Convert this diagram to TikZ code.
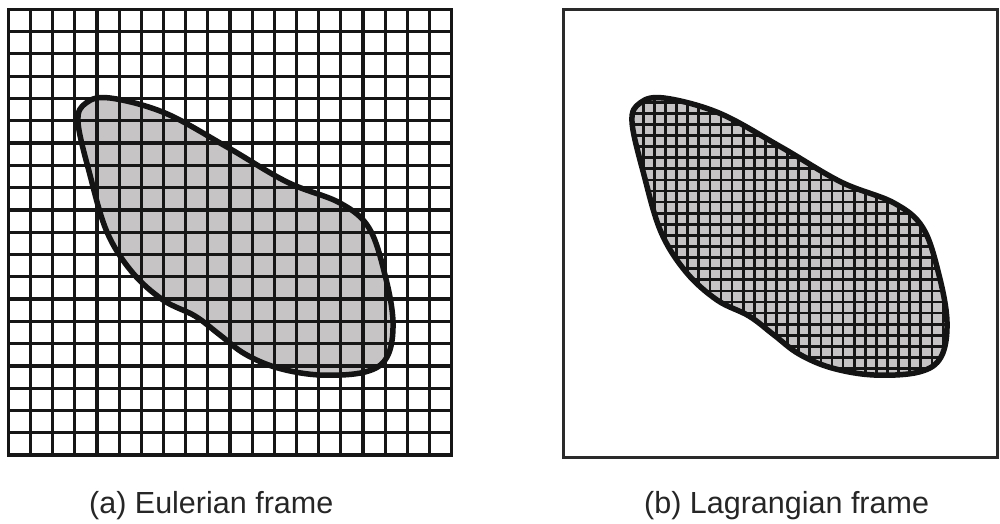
\documentclass[tikz,border=0pt]{standalone}
\usepackage{fontspec}
\setmainfont{Liberation Sans}
\definecolor{gridcol}{HTML}{161616}
\definecolor{blobfill}{HTML}{C6C4C4}
\definecolor{framecol}{HTML}{2A2A2A}
\tikzset{
  coarsegrid/.style={draw=gridcol, line width=3.2pt},
  finegrid/.style={draw=gridcol, line width=2.7pt},
  blobline/.style={draw=black!92, line width=5.5pt, line join=round},
  framebox/.style={draw=framecol, line width=3pt},
  caption/.style={anchor=base west, inner sep=0pt, font=\fontsize{30.5}{36}\selectfont, text=black!85}
}
\def\blobpath{plot[smooth cycle, tension=0.6] coordinates {(78,122) (86,103) (110,98) (165,113) (227,147) (287,182) (340,203) (369,228) (385,275) (393,322) (387,357) (365,372) (320,375) (278,368) (245,354) (220,335) (195,316) (163,300) (132,272) (107,232) (90,175)}}
\begin{document}
\begin{tikzpicture}[x=1pt, y=-1pt]
\useasboundingbox (0,0) rectangle (1000,523);
\fill[white] (0,0) rectangle (1000,523);
% ---- left panel: Eulerian ----
\fill[blobfill] \blobpath;
\foreach \i in {0,...,20}{
  \draw[coarsegrid] ({8.3+22.17*\i},9.3) -- ({8.3+22.17*\i},455);
  \draw[coarsegrid] (8.3,{9.3+22.29*\i}) -- (451.7,{9.3+22.29*\i});
}
\draw[coarsegrid, line width=3.4pt] (8.3,9.3) rectangle (451.7,455);
\draw[blobline] \blobpath;
% ---- right panel: Lagrangian ----
\draw[framebox] (563,9) rectangle (997,457);
\begin{scope}[xshift=554pt]
  \fill[blobfill] \blobpath;
  \begin{scope}
    \clip \blobpath;
    \foreach \i in {0,...,32}{
      \draw[finegrid] ({67.1+11.1*\i},80) -- ({67.1+11.1*\i},390);
    }
    \foreach \j in {0,...,28}{
      \draw[finegrid] (60,{91.1+11.1*\j}) -- (410,{91.1+11.1*\j});
    }
  \end{scope}
  \draw[blobline] \blobpath;
\end{scope}
% ---- captions ----
\node[caption] (capa) at (89,513) {(a) Eulerian frame};
\node[caption] (capb) at (644,513) {(b) Lagrangian frame};
\end{tikzpicture}
\end{document}
